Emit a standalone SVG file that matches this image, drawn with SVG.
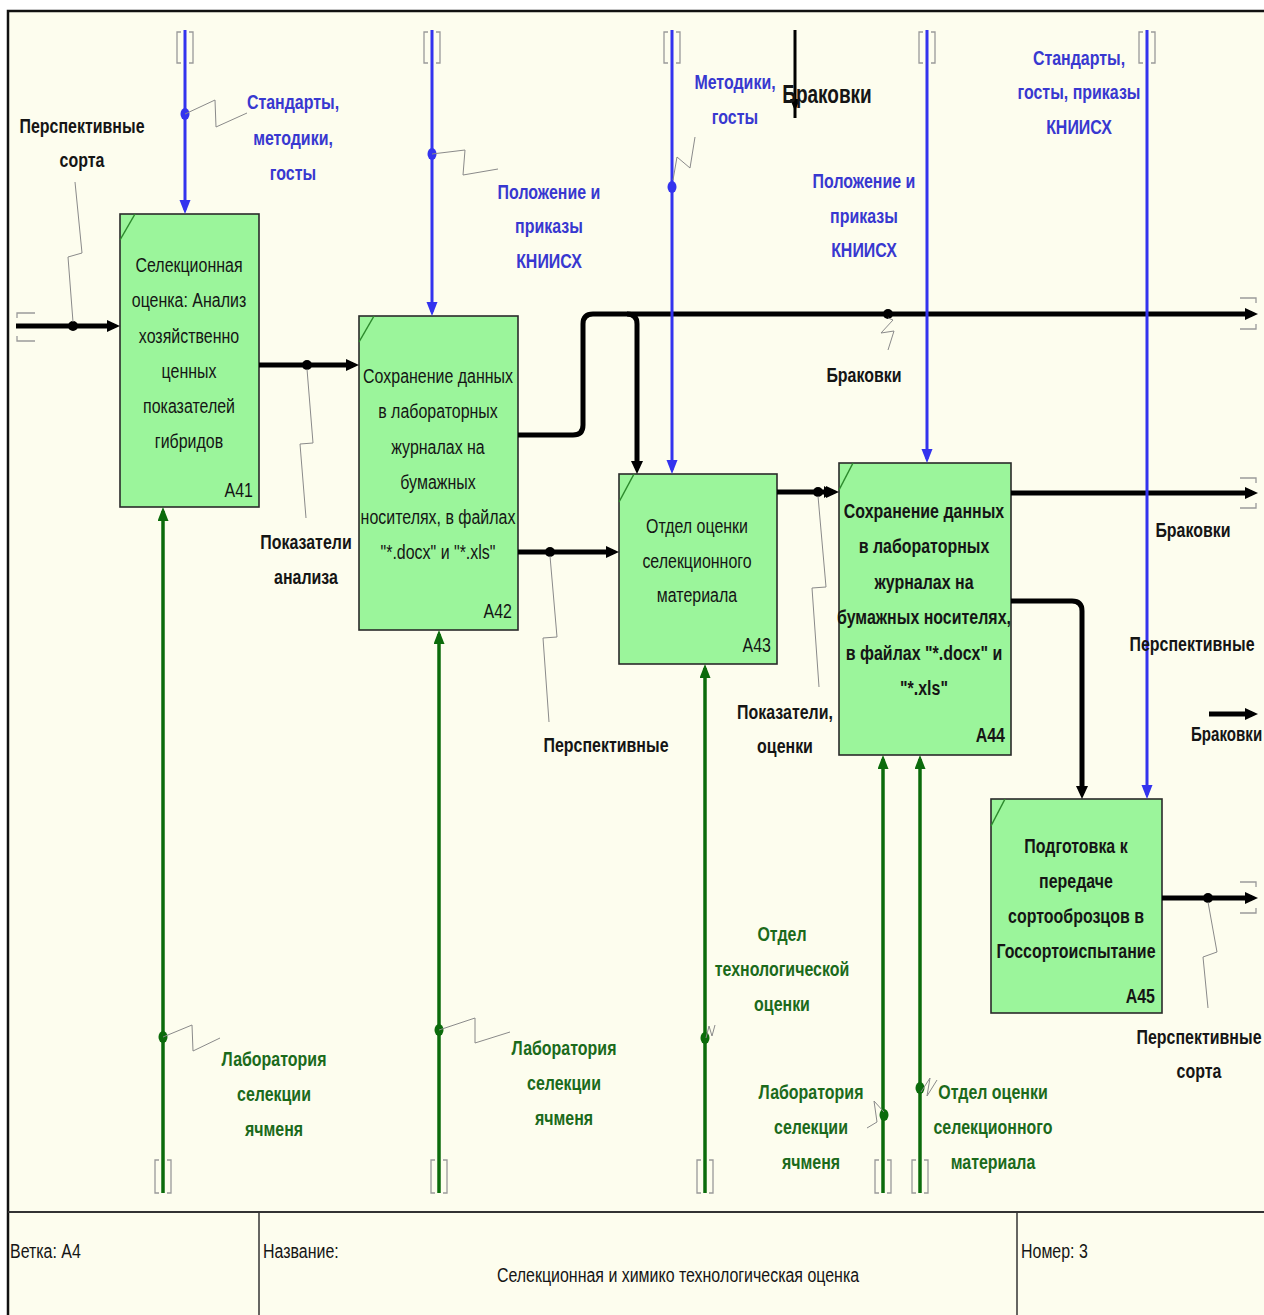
<svg xmlns="http://www.w3.org/2000/svg" width="1264" height="1315" viewBox="0 0 1264 1315">
<defs>
<style>
.t{font-family:"Liberation Sans",Arial,sans-serif;font-size:21px;text-anchor:middle}
.e{text-anchor:end}
.s{text-anchor:start}
.b{font-weight:bold}
.k{fill:#151515}
.bl{fill:#3838d0}
.gr{fill:#1b6a1b}
.box{fill:#9bf59b;stroke:#2a2a2a;stroke-width:1.6}
.dg{stroke:#2d8a2d;stroke-width:1.5;fill:none}
.blk{stroke:#000;stroke-width:5;fill:none}
.blu{stroke:#3333ee;stroke-width:3;fill:none}
.grn{stroke:#0b6b0b;stroke-width:3.5;fill:none}
.ld{stroke:#8a8a8a;stroke-width:1;fill:none}
.br{stroke:#9a9a9a;stroke-width:1.3;fill:none}
</style>
<marker id="ak" markerUnits="userSpaceOnUse" markerWidth="14" markerHeight="12" refX="7" refY="6" orient="auto"><path d="M0,0 L13,6 L0,12 z" fill="#000"/></marker>
<marker id="ab" markerUnits="userSpaceOnUse" markerWidth="15" markerHeight="12" refX="10" refY="5.5" orient="auto"><path d="M0,0 L14,5.5 L0,11 z" fill="#3333ee"/></marker>
<marker id="ag" markerUnits="userSpaceOnUse" markerWidth="15" markerHeight="12" refX="10" refY="5.5" orient="auto"><path d="M0,0 L14,5.5 L0,11 z" fill="#0b6b0b"/></marker>
</defs>
<rect x="0" y="0" width="1264" height="1315" fill="#fff"/>
<rect x="8" y="11" width="1262" height="1312" fill="#fdfdee" stroke="#111" stroke-width="2.5"/>
<g id="title-block">
<line x1="8" y1="1212" x2="1264" y2="1212" stroke="#333" stroke-width="2"/>
<line x1="259" y1="1212" x2="259" y2="1315" stroke="#333" stroke-width="1.5"/>
<line x1="1017" y1="1212" x2="1017" y2="1315" stroke="#333" stroke-width="1.5"/>
<text class="t s k" transform="translate(10,1258) scale(0.76,1)">Ветка: А4</text>
<text class="t s k" transform="translate(263,1258) scale(0.76,1)">Название:</text>
<text class="t k" transform="translate(678,1282) scale(0.76,1)">Селекционная и химико технологическая оценка</text>
<text class="t s k" transform="translate(1021,1258) scale(0.76,1)">Номер: 3</text>
</g>
<g id="A41">
<rect class="box" x="120" y="214" width="139" height="293"/>
<path class="dg" d="M120,240 L135,214"/>
<text class="t k" transform="translate(189,272) scale(0.76,1)"><tspan x="0">Селекционная</tspan><tspan x="0" dy="35.3">оценка: Анализ</tspan><tspan x="0" dy="35.3">хозяйственно</tspan><tspan x="0" dy="35.3">ценных</tspan><tspan x="0" dy="35.3">показателей</tspan><tspan x="0" dy="35.3">гибридов</tspan></text>
<text class="t e k" transform="translate(253,497) scale(0.76,1)">A41</text>
</g>
<g id="A42">
<rect class="box" x="359" y="316" width="159" height="314"/>
<path class="dg" d="M359,342 L374,316"/>
<text class="t k" transform="translate(438,383) scale(0.76,1)"><tspan x="0">Сохранение данных</tspan><tspan x="0" dy="35.3">в лабораторных</tspan><tspan x="0" dy="35.3">журналах на</tspan><tspan x="0" dy="35.3">бумажных</tspan><tspan x="0" dy="35.3">носителях, в файлах</tspan><tspan x="0" dy="35.3">"*.docx" и "*.xls"</tspan></text>
<text class="t e k" transform="translate(512,618) scale(0.76,1)">A42</text>
</g>
<g id="A43">
<rect class="box" x="619" y="474" width="158" height="190"/>
<path class="dg" d="M619,502 L634,474"/>
<text class="t k" transform="translate(697,533) scale(0.76,1)"><tspan x="0">Отдел оценки</tspan><tspan x="0" dy="35">селекционного</tspan><tspan x="0" dy="34.5">материала</tspan></text>
<text class="t e k" transform="translate(771,652) scale(0.76,1)">A43</text>
</g>
<g id="A44">
<rect class="box" x="839" y="463" width="172" height="292"/>
<path class="dg" d="M839,490 L853,463"/>
<text class="t b k" transform="translate(924,518) scale(0.76,1)"><tspan x="0">Сохранение данных</tspan><tspan x="0" dy="35.5">в лабораторных</tspan><tspan x="0" dy="35.5">журналах на</tspan><tspan x="0" dy="35.5">бумажных носителях,</tspan><tspan x="0" dy="35.5">в файлах "*.docx" и</tspan><tspan x="0" dy="35.5">"*.xls"</tspan></text>
<text class="t e b k" transform="translate(1005,742) scale(0.76,1)">A44</text>
</g>
<g id="A45">
<rect class="box" x="991" y="799" width="171" height="214"/>
<path class="dg" d="M991,826 L1005,799"/>
<text class="t b k" transform="translate(1076,853) scale(0.76,1)"><tspan x="0">Подготовка к</tspan><tspan x="0" dy="35">передаче</tspan><tspan x="0" dy="35">сортооброзцов в</tspan><tspan x="0" dy="35">Госсортоиспытание</tspan></text>
<text class="t e b k" transform="translate(1155,1003) scale(0.76,1)">A45</text>
</g>
<g id="connectors">
<g class="br">
<path d="M17,318 V313 H35 M17,336 V341 H35"/>
<path d="M1240,298 H1256 V303 M1240,329 H1256 V324"/>
<path d="M1240,478 H1256 V483 M1240,508 H1256 V503"/>
<path d="M1240,882 H1256 V887 M1240,913 H1256 V908"/>
<path d="M181,32 H177 V63 H181 M189,32 H193 V63 H189"/>
<path d="M428,32 H424 V63 H428 M436,32 H440 V63 H436"/>
<path d="M668,32 H664 V63 H668 M676,32 H680 V63 H676"/>
<path d="M923,32 H919 V63 H923 M931,32 H935 V63 H931"/>
<path d="M1143,32 H1139 V63 H1143 M1151,32 H1155 V63 H1151"/>
<path d="M159,1160 H155 V1193 H159 M167,1160 H171 V1193 H167"/>
<path d="M435,1160 H431 V1193 H435 M443,1160 H447 V1193 H443"/>
<path d="M701,1160 H697 V1193 H701 M709,1160 H713 V1193 H709"/>
<path d="M879,1160 H875 V1193 H879 M887,1160 H891 V1193 H887"/>
<path d="M916,1160 H912 V1193 H916 M924,1160 H928 V1193 H924"/>
</g>
<path class="blk" d="M16,326 H114" marker-end="url(#ak)"/>
<path class="blk" d="M259,365 H353" marker-end="url(#ak)"/>
<path class="blk" d="M518,435 H573 Q583,435 583,425 V324 Q583,314 593,314 H1252" marker-end="url(#ak)"/>
<path class="blk" d="M627,314 Q637,314 637,324 V468" marker-end="url(#ak)"/>
<path class="blk" d="M518,552 H613" marker-end="url(#ak)"/>
<path class="blk" d="M777,492 H833" marker-end="url(#ak)"/>
<path d="M824,486 L833,492 L824,498 z" fill="#000"/>
<path class="blk" d="M1011,493 H1252" marker-end="url(#ak)"/>
<path class="blk" d="M1011,601 H1072 Q1082,601 1082,611 V793" marker-end="url(#ak)"/>
<path class="blk" d="M1162,898 H1252" marker-end="url(#ak)"/>
<path class="blk" d="M1209,714 H1252" marker-end="url(#ak)"/>
<path d="M795,30 V118" stroke="#000" stroke-width="3"/>
<path d="M790,99 L800,99 L795,111 z" fill="#000"/>
<path class="blu" d="M185,30 V210" marker-end="url(#ab)"/>
<path class="blu" d="M432,30 V312" marker-end="url(#ab)"/>
<path class="blu" d="M672,30 V470" marker-end="url(#ab)"/>
<path class="blu" d="M927,30 V459" marker-end="url(#ab)"/>
<path class="blu" d="M1147,30 V795" marker-end="url(#ab)"/>
<path class="grn" d="M163,1193 V511" marker-end="url(#ag)"/>
<path class="grn" d="M439,1193 V634" marker-end="url(#ag)"/>
<path class="grn" d="M705,1193 V668" marker-end="url(#ag)"/>
<path class="grn" d="M883,1193 V759" marker-end="url(#ag)"/>
<path class="grn" d="M920,1193 V759" marker-end="url(#ag)"/>
<g fill="#000">
<circle cx="73" cy="326" r="5"/><circle cx="307" cy="365" r="5"/><circle cx="888" cy="314" r="5"/>
<circle cx="550" cy="552" r="5"/><circle cx="818" cy="492" r="5"/><circle cx="1208" cy="898" r="5"/>
</g>
<g fill="#3333ee">
<ellipse cx="185" cy="114" rx="4.5" ry="6"/><ellipse cx="432" cy="154" rx="4.5" ry="6"/><ellipse cx="672" cy="187" rx="4.5" ry="6"/>
</g>
<g fill="#0b6b0b">
<ellipse cx="163" cy="1037" rx="4.5" ry="6"/><ellipse cx="439" cy="1030" rx="4.5" ry="6"/><ellipse cx="705" cy="1038" rx="4.5" ry="6"/>
<ellipse cx="884" cy="1115" rx="4.5" ry="6"/><ellipse cx="920" cy="1088" rx="4.5" ry="6"/>
</g>
<path class="ld" d="M75,182 L82,253 L68,257 L73,322"/>
<path class="ld" d="M307,369 L313,443 L300,444 L306,518"/>
<path class="ld" d="M888,318 L893,320 L881,333 L894,331 L888,350"/>
<path class="ld" d="M550,556 L557,637 L543,638 L549,722"/>
<path class="ld" d="M818,496 L826,587 L812,588 L819,687"/>
<path class="ld" d="M1208,902 L1217,952 L1203,957 L1208,1008"/>
<path class="ld" d="M185,114 L215,100 L216,127 L247,113"/>
<path class="ld" d="M432,154 L465,150 L463,175 L498,169"/>
<path class="ld" d="M673,180 L677,157 L690,168 L695,137"/>
<path class="ld" d="M163,1037 L192,1025 L193,1051 L220,1038"/>
<path class="ld" d="M439,1030 L475,1018 L475,1043 L510,1032"/>
<path class="ld" d="M706,1038 L709,1026 L712,1036 L715,1025"/>
<path class="ld" d="M884,1112 L874,1101 L877,1122 L867,1128"/>
<path class="ld" d="M921,1092 L930,1078 L927,1096 L937,1080"/>
</g>
<g id="labels">
<text class="t b k" transform="translate(82,133) scale(0.76,1)"><tspan x="0">Перспективные</tspan><tspan x="0" dy="34">сорта</tspan></text>
<text class="t b bl" transform="translate(293,109) scale(0.76,1)"><tspan x="0">Стандарты,</tspan><tspan x="0" dy="36">методики,</tspan><tspan x="0" dy="35">госты</tspan></text>
<text class="t b bl" transform="translate(549,199) scale(0.76,1)"><tspan x="0">Положение и</tspan><tspan x="0" dy="34.5">приказы</tspan><tspan x="0" dy="34.5">КНИИСХ</tspan></text>
<text class="t b bl" transform="translate(735,89) scale(0.76,1)"><tspan x="0">Методики,</tspan><tspan x="0" dy="35">госты</tspan></text>
<text class="t b k" style="font-size:25px" transform="translate(827,103) scale(0.76,1)">Браковки</text>
<text class="t b bl" transform="translate(864,188) scale(0.76,1)"><tspan x="0">Положение и</tspan><tspan x="0" dy="35">приказы</tspan><tspan x="0" dy="34.5">КНИИСХ</tspan></text>
<text class="t b bl" transform="translate(1079,65) scale(0.76,1)"><tspan x="0">Стандарты,</tspan><tspan x="0" dy="34.5">госты, приказы</tspan><tspan x="0" dy="35">КНИИСХ</tspan></text>
<text class="t b k" transform="translate(864,382) scale(0.76,1)">Браковки</text>
<text class="t b k" transform="translate(306,549) scale(0.76,1)"><tspan x="0">Показатели</tspan><tspan x="0" dy="35.5">анализа</tspan></text>
<text class="t b k" transform="translate(606,752) scale(0.76,1)">Перспективные</text>
<text class="t b k" transform="translate(785,719) scale(0.76,1)"><tspan x="0">Показатели,</tspan><tspan x="0" dy="34.5">оценки</tspan></text>
<text class="t b k" transform="translate(1193,537) scale(0.76,1)">Браковки</text>
<text class="t b k" transform="translate(1192,651) scale(0.76,1)">Перспективные</text>
<text class="t s b k" transform="translate(1191,741) scale(0.72,1)">Браковки</text>
<text class="t b k" transform="translate(1199,1044) scale(0.76,1)"><tspan x="0">Перспективные</tspan><tspan x="0" dy="34.5">сорта</tspan></text>
<text class="t b gr" transform="translate(782,941) scale(0.76,1)"><tspan x="0">Отдел</tspan><tspan x="0" dy="35.5">технологической</tspan><tspan x="0" dy="35">оценки</tspan></text>
<text class="t b gr" transform="translate(274,1066) scale(0.76,1)"><tspan x="0">Лаборатория</tspan><tspan x="0" dy="35">селекции</tspan><tspan x="0" dy="35">ячменя</tspan></text>
<text class="t b gr" transform="translate(564,1055) scale(0.76,1)"><tspan x="0">Лаборатория</tspan><tspan x="0" dy="35">селекции</tspan><tspan x="0" dy="35">ячменя</tspan></text>
<text class="t b gr" transform="translate(811,1099) scale(0.76,1)"><tspan x="0">Лаборатория</tspan><tspan x="0" dy="35">селекции</tspan><tspan x="0" dy="35">ячменя</tspan></text>
<text class="t b gr" transform="translate(993,1099) scale(0.76,1)"><tspan x="0">Отдел оценки</tspan><tspan x="0" dy="35">селекционного</tspan><tspan x="0" dy="35">материала</tspan></text>
</g>
</svg>
